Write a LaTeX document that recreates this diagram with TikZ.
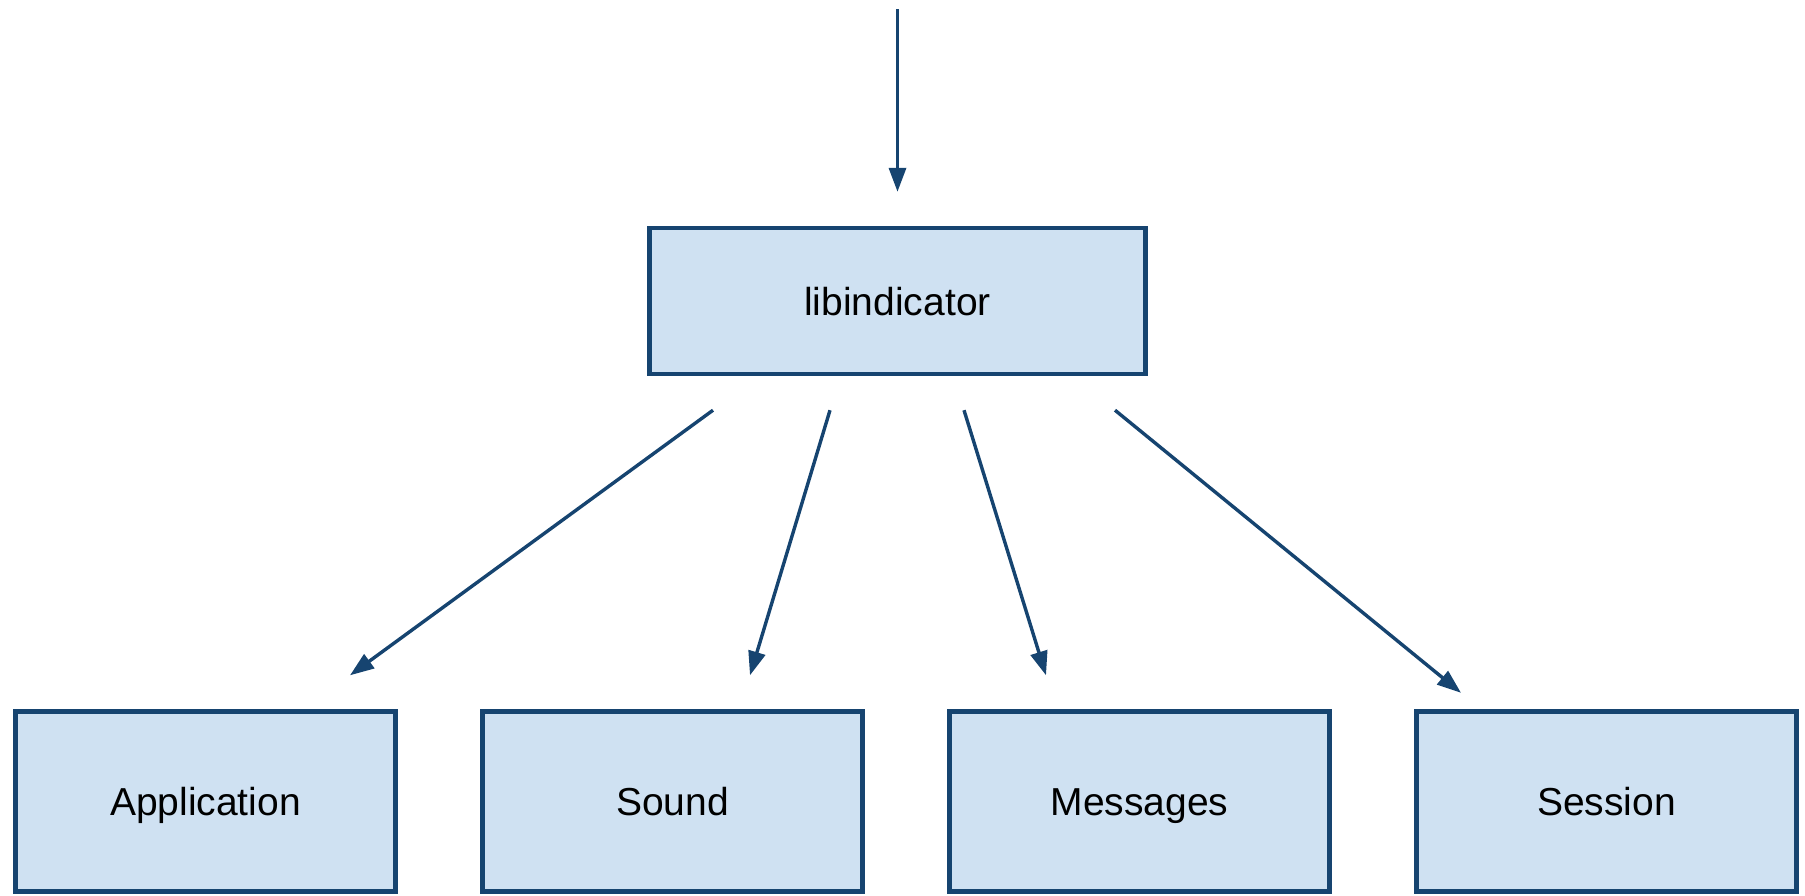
\documentclass[tikz,border=0pt]{standalone}
\usepackage{fontspec}
\setmainfont{Liberation Sans}
\usetikzlibrary{arrows.meta, calc}
\definecolor{boxfill}{RGB}{207,225,242}
\definecolor{boxline}{RGB}{22,68,112}
\tikzset{box/.style = {draw = boxline, fill = boxfill, line width = 2.2pt, inner sep = 0pt, text height = 18pt, text depth = 4pt, font = \fontsize{19.5}{23}\selectfont}}
\tikzset{link/.style = {draw = boxline, line width = 1.7pt, -{Triangle[length = 12pt, width = 8.5pt]}}}

\begin{document}
\begin{tikzpicture}[x = 0.5pt, y = -0.5pt]
\useasboundingbox (0,0) rectangle (1805,895);
\node[box, minimum width = 248pt, minimum height = 73pt] (L) at (897.5,301) {libindicator};
\node[box, minimum width = 190pt, minimum height = 90pt] (App) at (205.5,801.5) {Application};
\node[box, minimum width = 190pt, minimum height = 90pt] (Snd) at (672.5,801.5) {Sound};
\node[box, minimum width = 190pt, minimum height = 90pt] (Msg) at (1139.5,801.5) {Messages};
\node[box, minimum width = 190pt, minimum height = 90pt] (Ses) at (1606.5,801.5) {Session};
\coordinate (T) at (897.5,9);
\draw[link] (T) -- ($(L.north)+(0,-34)$);
\draw[link] ($(L.south)+(-184.5,34)$) -- ($(App.north)+(144.5,-34)$);
\draw[link] ($(L.south)+(-67.5,34)$) -- ($(Snd.north)+(77.5,-34)$);
\draw[link] ($(L.south)+(66.5,34)$) -- ($(Msg.north)+(-93.5,-34)$);
\draw[link] ($(L.south)+(217.5,34)$) -- ($(Ses.north)+(-145.5,-16.5)$);
\end{tikzpicture}
\end{document}
